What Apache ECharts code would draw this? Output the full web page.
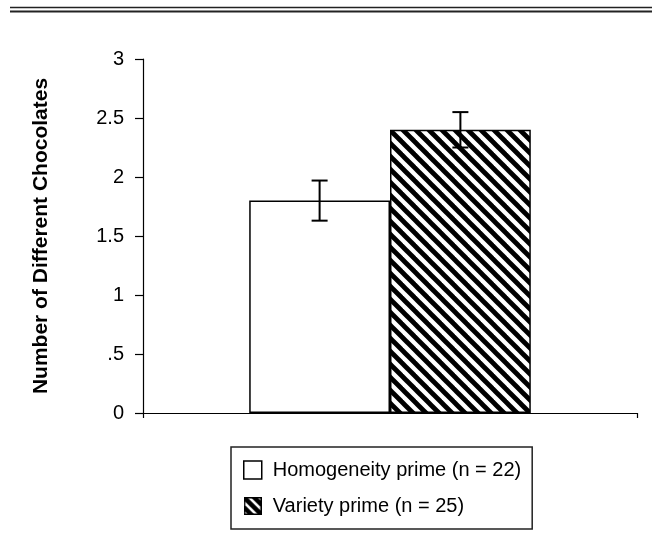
<!DOCTYPE html>
<html>
<head>
<meta charset="utf-8">
<script src="https://cdn.jsdelivr.net/npm/echarts@6/dist/echarts.min.js"></script>
<style>
html,body{margin:0;padding:0;background:#fff;}
#chart{width:652px;height:558px;}
</style>
</head>
<body>
<div id="chart"></div>
<script>
// ---- data ----
const categories = ['Prime'];
const seriesNames = ['Homogeneity prime (n = 22)', 'Variety prime (n = 25)'];
const means = [1.8, 2.4];
const errLow = [1.63, 2.25];
const errHigh = [1.97, 2.55];
const yTickLabels = ['0', '.5', '1', '1.5', '2', '2.5', '3'];
const yAxisTitle = 'Number of Different Chocolates';

// ---- styles ----
const FONT = '"Liberation Sans", Arial, Helvetica, sans-serif';
const BAR_FRAC = 0.285;

function makeHatch(size, lw) {
  const c = document.createElement('canvas');
  c.width = size; c.height = size;
  const g = c.getContext('2d');
  g.fillStyle = '#fff';
  g.fillRect(0, 0, size, size);
  g.strokeStyle = '#000';
  g.lineWidth = lw;
  for (const k of [-size, 0, size]) {
    g.beginPath();
    g.moveTo(-2, k - 2);
    g.lineTo(size + 2, size + k + 2);
    g.stroke();
  }
  return c;
}
const hatch = makeHatch(13, 4.8);

function makeLegendIcon() {
  const s = 18;
  const c = document.createElement('canvas');
  c.width = s; c.height = s;
  const g = c.getContext('2d');
  g.fillStyle = '#fff';
  g.fillRect(0, 0, s, s);
  g.save();
  g.beginPath(); g.rect(1, 1, s - 2, s - 2); g.clip();
  g.strokeStyle = '#000';
  g.lineWidth = 4.5;
  for (const k of [-10, 0, 10]) {
    g.beginPath();
    g.moveTo(0, k);
    g.lineTo(s, s + k);
    g.stroke();
  }
  g.restore();
  g.strokeStyle = '#000';
  g.lineWidth = 1.5;
  g.strokeRect(0.75, 0.75, s - 1.5, s - 1.5);
  return c.toDataURL();
}

const chart = echarts.init(document.getElementById('chart'), null, {renderer: 'canvas'});

const barStyles = [
  {color: '#fff', borderColor: '#000', borderWidth: 1.5},
  {color: {image: hatch, repeat: 'repeat'}, borderColor: '#000', borderWidth: 1.5}
];

const option = {
  backgroundColor: '#fff',
  animation: false,
  textStyle: {fontFamily: FONT},
  graphic: [
    {type: 'line', shape: {x1: 10, y1: 7.5, x2: 652, y2: 7.5}, style: {stroke: '#222', lineWidth: 1.5}},
    {type: 'line', shape: {x1: 10, y1: 11.5, x2: 652, y2: 11.5}, style: {stroke: '#222', lineWidth: 2}}
  ],
  grid: {left: 143, right: 15, top: 59, bottom: 145, containLabel: false, outerBoundsMode: 'none'},
  legend: {
    orient: 'vertical',
    left: 231, top: 447,
    padding: [13, 11, 13, 12],
    itemWidth: 18, itemHeight: 18, itemGap: 16,
    borderColor: '#222', borderWidth: 1.5,
    selectedMode: false,
    textStyle: {fontFamily: FONT, fontSize: 20, color: '#000', padding: [0, 0, 0, 6]},
    data: [
      {name: seriesNames[0], icon: 'rect', itemStyle: {color: '#fff', borderColor: '#000', borderWidth: 1.5}},
      {name: seriesNames[1], icon: 'image://' + makeLegendIcon()}
    ]
  },
  xAxis: {
    type: 'category',
    data: categories,
    boundaryGap: true,
    axisLine: {lineStyle: {color: '#000', width: 1.2}},
    axisTick: {show: true, length: 5, lineStyle: {color: '#000', width: 1.2}},
    axisLabel: {show: false}
  },
  yAxis: {
    type: 'value',
    min: 0, max: 3, interval: 0.5,
    name: yAxisTitle,
    nameLocation: 'middle',
    nameGap: 91,
    nameRotate: 90,
    nameTextStyle: {fontFamily: FONT, fontSize: 21, fontWeight: 'bold', color: '#000'},
    axisLine: {show: true, lineStyle: {color: '#000', width: 1.2}},
    axisTick: {show: true, length: 8, lineStyle: {color: '#000', width: 1.2}},
    splitLine: {show: false},
    axisLabel: {
      fontFamily: FONT, fontSize: 20, color: '#000', margin: 19,
      formatter: (v) => yTickLabels[Math.round(v * 2)]
    }
  },
  series: [
    {name: seriesNames[0], type: 'bar', data: [means[0]], barWidth: (BAR_FRAC * 100) + '%', barGap: '0%', itemStyle: barStyles[0], z: 2},
    {name: seriesNames[1], type: 'bar', data: [means[1]], barWidth: (BAR_FRAC * 100) + '%', barGap: '0%', itemStyle: barStyles[1], z: 2},
    {
      type: 'custom',
      name: 'error',
      z: 5,
      data: errLow.map((lo, i) => [0, lo, errHigh[i], i]),
      encode: {x: 0, y: [1, 2]},
      renderItem: function (params, api) {
        const cat = api.value(0);
        const lo = api.value(1), hi = api.value(2), idx = api.value(3);
        const band = api.size([1, 0])[0];
        const off = (idx - 0.5) * band * BAR_FRAC;
        const pHi = api.coord([cat, hi]);
        const pLo = api.coord([cat, lo]);
        const x = pHi[0] + off;
        const cap = 8;
        const st = {stroke: '#000', lineWidth: 2};
        return {
          type: 'group',
          children: [
            {type: 'line', shape: {x1: x, y1: pHi[1], x2: x, y2: pLo[1]}, style: st},
            {type: 'line', shape: {x1: x - cap, y1: pHi[1], x2: x + cap, y2: pHi[1]}, style: st},
            {type: 'line', shape: {x1: x - cap, y1: pLo[1], x2: x + cap, y2: pLo[1]}, style: st}
          ]
        };
      }
    }
  ]
};
chart.setOption(option);
</script>
</body>
</html>
